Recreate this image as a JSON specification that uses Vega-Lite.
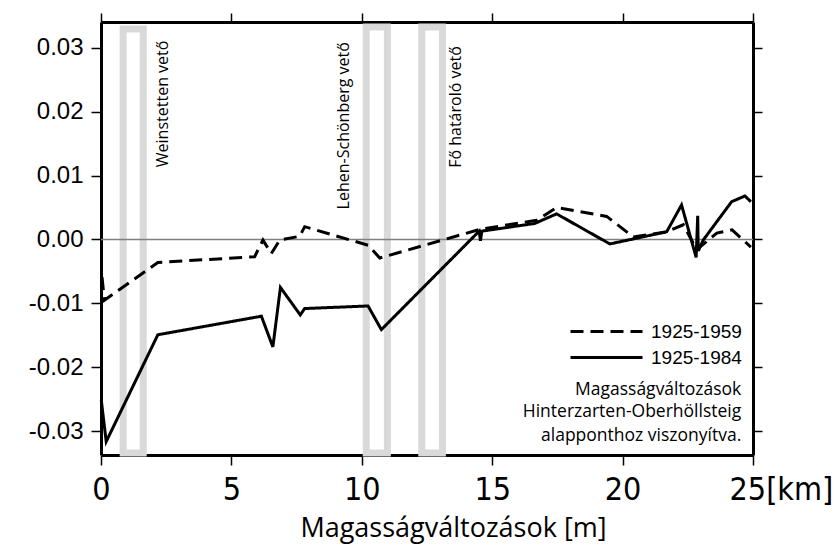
{
  "$schema": "https://vega.github.io/schema/vega-lite/v6.json",
  "width": 652,
  "height": 433,
  "autosize": {"type": "none"},
  "padding": {"left": 101, "top": 22, "right": 80, "bottom": 92},
  "background": "white",
  "config": {
    "view": {"stroke": null},
    "axis": {"grid": false, "zindex": 1, "domainColor": "black", "domainWidth": 3, "tickColor": "black", "tickWidth": 1.5}
  },
  "datasets": {
    "faults": [
      {"fault": "Weinstetten vető", "from": 0.85, "to": 1.62, "top": 0.0329, "bottom": -0.0334},
      {"fault": "Lehen-Schönberg vető", "from": 10.17, "to": 10.98, "top": 0.0332, "bottom": -0.0334},
      {"fault": "Fő határoló vető", "from": 12.3, "to": 13.09, "top": 0.0332, "bottom": -0.0334}
    ],
    "faultLabels": [
      {"label": "Weinstetten vető", "km": 2.38, "dh": 0.0113},
      {"label": "Lehen-Schönberg vető", "km": 9.33, "dh": 0.0047},
      {"label": "Fő határoló vető", "km": 13.6, "dh": 0.0112}
    ],
    "profiles": [
      {"period": "1925-1959", "km": 0.04, "dh": -0.0059},
      {"period": "1925-1959", "km": 0.13, "dh": -0.0095},
      {"period": "1925-1959", "km": 2.18, "dh": -0.0036},
      {"period": "1925-1959", "km": 5.89, "dh": -0.0027},
      {"period": "1925-1959", "km": 6.21, "dh": -0.0001},
      {"period": "1925-1959", "km": 6.53, "dh": -0.0022},
      {"period": "1925-1959", "km": 6.85, "dh": -0.0001},
      {"period": "1925-1959", "km": 7.62, "dh": 0.0005},
      {"period": "1925-1959", "km": 7.81, "dh": 0.002},
      {"period": "1925-1959", "km": 10.24, "dh": -0.0009},
      {"period": "1925-1959", "km": 10.69, "dh": -0.0029},
      {"period": "1925-1959", "km": 14.55, "dh": 0.0016},
      {"period": "1925-1959", "km": 16.7, "dh": 0.003},
      {"period": "1925-1959", "km": 17.47, "dh": 0.005},
      {"period": "1925-1959", "km": 19.39, "dh": 0.0036},
      {"period": "1925-1959", "km": 20.41, "dh": 0.0004},
      {"period": "1925-1959", "km": 21.69, "dh": 0.0012},
      {"period": "1925-1959", "km": 22.33, "dh": 0.0023},
      {"period": "1925-1959", "km": 22.84, "dh": -0.0016},
      {"period": "1925-1959", "km": 23.61, "dh": 0.001},
      {"period": "1925-1959", "km": 24.2, "dh": 0.0015},
      {"period": "1925-1959", "km": 24.92, "dh": -0.0012},
      {"period": "1925-1984", "km": 0.01, "dh": -0.0251},
      {"period": "1925-1984", "km": 0.2, "dh": -0.0316},
      {"period": "1925-1984", "km": 2.18, "dh": -0.0149},
      {"period": "1925-1984", "km": 6.15, "dh": -0.012},
      {"period": "1925-1984", "km": 6.59, "dh": -0.0168},
      {"period": "1925-1984", "km": 6.88, "dh": -0.0075},
      {"period": "1925-1984", "km": 7.64, "dh": -0.0118},
      {"period": "1925-1984", "km": 7.81, "dh": -0.0108},
      {"period": "1925-1984", "km": 10.24, "dh": -0.0104},
      {"period": "1925-1984", "km": 10.75, "dh": -0.0141},
      {"period": "1925-1984", "km": 14.5, "dh": 0.0013},
      {"period": "1925-1984", "km": 14.55, "dh": -0.0002},
      {"period": "1925-1984", "km": 14.6, "dh": 0.0013},
      {"period": "1925-1984", "km": 16.63, "dh": 0.0025},
      {"period": "1925-1984", "km": 17.47, "dh": 0.004},
      {"period": "1925-1984", "km": 19.51, "dh": -0.0007},
      {"period": "1925-1984", "km": 21.69, "dh": 0.0012},
      {"period": "1925-1984", "km": 22.26, "dh": 0.0054},
      {"period": "1925-1984", "km": 22.82, "dh": -0.0028},
      {"period": "1925-1984", "km": 22.88, "dh": 0.0037},
      {"period": "1925-1984", "km": 22.9, "dh": -0.0018},
      {"period": "1925-1984", "km": 23.09, "dh": -0.0001},
      {"period": "1925-1984", "km": 24.18, "dh": 0.0059},
      {"period": "1925-1984", "km": 24.69, "dh": 0.0068},
      {"period": "1925-1984", "km": 24.92, "dh": 0.0059}
    ],
    "note": [
      {"line": "Magasságváltozások", "km": 24.55, "dh": -0.0243},
      {"line": "Hinterzarten-Oberhöllsteig", "km": 24.55, "dh": -0.0278},
      {"line": "alapponthoz viszonyítva.", "km": 24.55, "dh": -0.0315}
    ]
  },
  "layer": [
    {
      "data": {"name": "faults"},
      "mark": {"type": "rect", "fill": null, "stroke": "#d9d9d9", "strokeWidth": 7},
      "encoding": {
        "x": {"field": "from", "type": "quantitative", "scale": {"domain": [0, 25], "nice": false, "zero": false},
              "axis": {"orient": "top", "values": [0, 5, 10, 15, 20, 25], "labels": false, "tickSize": 9, "title": null}},
        "x2": {"field": "to"},
        "y": {"field": "top", "type": "quantitative", "scale": {"domain": [-0.0337, 0.034], "nice": false, "zero": false},
              "axis": {"orient": "right", "values": [-0.03, -0.02, -0.01, 0, 0.01, 0.02, 0.03], "labels": false, "tickSize": 9, "title": null}},
        "y2": {"field": "bottom"}
      }
    },
    {
      "data": {"values": [{"dh": 0}]},
      "mark": {"type": "rule", "stroke": "#808080", "strokeWidth": 1.5},
      "encoding": {"y": {"field": "dh", "type": "quantitative", "axis": null}}
    },
    {
      "data": {"name": "faultLabels"},
      "mark": {"type": "text", "angle": 270, "align": "left", "baseline": "middle", "font": "Open Sans", "fontSize": 16, "color": "black"},
      "encoding": {
        "x": {"field": "km", "type": "quantitative", "axis": null},
        "y": {"field": "dh", "type": "quantitative", "axis": null},
        "text": {"field": "label"}
      }
    },
    {
      "data": {"name": "profiles"},
      "mark": {"type": "line", "color": "black", "strokeWidth": 3, "strokeJoin": "miter"},
      "encoding": {
        "x": {"field": "km", "type": "quantitative",
              "axis": {"orient": "bottom", "values": [0, 5, 10, 15, 20, 25], "tickSize": 10,
                       "labelFont": "DejaVu Sans Condensed, Liberation Sans Narrow, Liberation Sans", "labelFontSize": 32, "labelColor": "black", "labelPadding": 9,
                       "labelExpr": "datum.value == 25 ? '25[km]' : datum.label",
                       "labelAlign": {"condition": {"test": "datum.value == 25", "value": "left"}, "value": "center"},
                       "labelOffset": {"condition": {"test": "datum.value == 25", "value": -24}, "value": 0},
                       "title": "Magasságváltozások [m]", "titleFont": "Open Sans", "titleFontSize": 27, "titleFontWeight": "normal", "titleColor": "black", "titlePadding": 10, "titleX": 352}},
        "y": {"field": "dh", "type": "quantitative",
              "axis": {"orient": "left", "values": [-0.03, -0.02, -0.01, 0, 0.01, 0.02, 0.03], "tickSize": 10,
                       "labelExpr": "datum.value < 0 ? '-' + format(-datum.value, '.2f') : format(datum.value, '.2f')",
                       "labelFont": "Liberation Sans", "labelFontSize": 24, "labelColor": "black", "labelPadding": 8, "title": null}},
        "strokeDash": {"field": "period", "type": "nominal",
                       "scale": {"domain": ["1925-1959", "1925-1984"], "range": [[13, 7], [1, 0]]},
                       "legend": {"orient": "none", "legendX": 496, "legendY": 300, "title": null, "symbolType": "M-4.5,0H4.5", "symbolSize": 256,
                                  "symbolStrokeWidth": 3, "symbolStrokeColor": "black", "symbolFillColor": "transparent", "labelOffset": 35,
                                  "labelFont": "Liberation Sans", "labelFontSize": 19, "labelColor": "black", "rowPadding": 6}}
      }
    },
    {
      "data": {"name": "note"},
      "mark": {"type": "text", "align": "right", "baseline": "alphabetic", "font": "Open Sans", "fontSize": 17.5, "color": "black"},
      "encoding": {
        "x": {"field": "km", "type": "quantitative", "axis": null},
        "y": {"field": "dh", "type": "quantitative", "axis": null},
        "text": {"field": "line"}
      }
    }
  ],
  "resolve": {"axis": {"x": "independent", "y": "independent"}}
}
